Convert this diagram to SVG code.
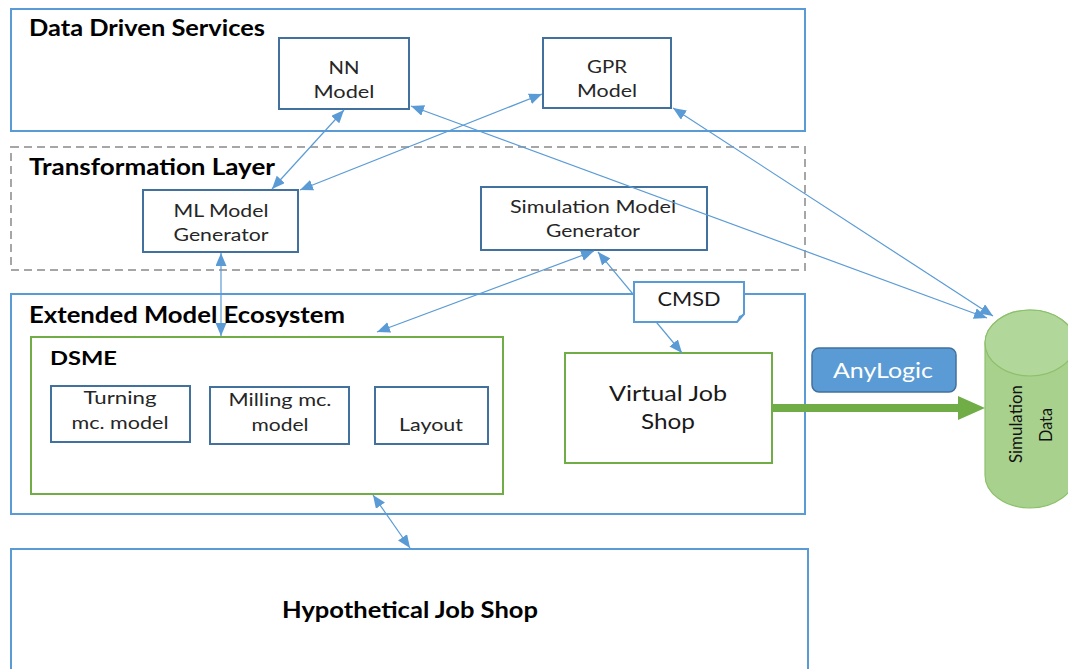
<svg xmlns="http://www.w3.org/2000/svg" width="1068" height="669" viewBox="0 0 1068 669">
<defs>
<style>
.outer{fill:none;stroke:#5b9bd5;stroke-width:2}
.dash{fill:none;stroke:#a6a6a6;stroke-width:2;stroke-dasharray:8 5}
.node{fill:#fff;stroke:#41719c;stroke-width:2}
.green{fill:#fff;stroke:#70ad47;stroke-width:2}
.title{font-family:Lato,"Liberation Sans",sans-serif;font-weight:bold;font-size:22px;fill:#000}
.lbl{font-family:Lato,"Liberation Sans",sans-serif;font-size:18px;fill:#262626;text-anchor:middle}
.big{font-family:Lato,"Liberation Sans",sans-serif;font-size:22px;fill:#1a1a1a;text-anchor:middle}
.conn{stroke:#5b9bd5;stroke-width:1.2;fill:none;marker-start:url(#ah);marker-end:url(#ah)}
</style>
<marker id="ah" markerUnits="userSpaceOnUse" markerWidth="14" markerHeight="12" refX="13" refY="5.5" orient="auto-start-reverse">
<path d="M0,0 L13,5.5 L0,11 z" fill="#5b9bd5"/>
</marker>
</defs>

<g id="data-driven-services">
<rect class="outer" x="11" y="9" width="794" height="122"/>
<text class="title" x="29" y="36" textLength="236" lengthAdjust="spacingAndGlyphs">Data Driven Services</text>
</g>
<g id="transformation-layer">
<rect class="dash" x="11" y="147" width="794" height="123"/>
<text class="title" x="29" y="175" textLength="246" lengthAdjust="spacingAndGlyphs">Transformation Layer</text>
</g>
<g id="extended-model-ecosystem">
<rect class="outer" x="11" y="294" width="794" height="220"/>
<text class="title" x="29" y="323" textLength="316" lengthAdjust="spacingAndGlyphs">Extended Model Ecosystem</text>
</g>
<g id="hypothetical-job-shop">
<rect class="outer" x="11" y="549" width="797" height="130"/>
<text class="title" x="282" y="618" textLength="256" lengthAdjust="spacingAndGlyphs">Hypothetical Job Shop</text>
</g>

<g id="nn-model">
<rect class="node" x="279" y="38" width="130" height="71"/>
<text class="lbl" x="344" y="74" textLength="31" lengthAdjust="spacingAndGlyphs">NN</text>
<text class="lbl" x="344" y="98" textLength="61" lengthAdjust="spacingAndGlyphs">Model</text>
</g>
<g id="gpr-model">
<rect class="node" x="543" y="38" width="128" height="70"/>
<text class="lbl" x="607" y="73" textLength="40" lengthAdjust="spacingAndGlyphs">GPR</text>
<text class="lbl" x="607" y="97" textLength="60" lengthAdjust="spacingAndGlyphs">Model</text>
</g>
<g id="ml-model-generator">
<rect class="node" x="143" y="190" width="155" height="62"/>
<text class="lbl" x="221" y="217" textLength="95" lengthAdjust="spacingAndGlyphs">ML Model</text>
<text class="lbl" x="221" y="241" textLength="95" lengthAdjust="spacingAndGlyphs">Generator</text>
</g>
<g id="simulation-model-generator">
<rect class="node" x="481" y="187" width="226" height="63"/>
<text class="lbl" x="593" y="213" textLength="166" lengthAdjust="spacingAndGlyphs">Simulation Model</text>
<text class="lbl" x="593" y="237" textLength="94" lengthAdjust="spacingAndGlyphs">Generator</text>
</g>

<g id="dsme">
<rect class="green" x="31" y="337" width="472" height="157"/>
<text class="title" x="50" y="365" style="font-size:19px" textLength="67" lengthAdjust="spacingAndGlyphs">DSME</text>
</g>
<g id="turning-model">
<rect class="node" x="51" y="386" width="139" height="56"/>
<text class="lbl" x="120" y="404" textLength="73" lengthAdjust="spacingAndGlyphs">Turning</text>
<text class="lbl" x="120" y="429" textLength="97" lengthAdjust="spacingAndGlyphs">mc. model</text>
</g>
<g id="milling-model">
<rect class="node" x="210" y="387" width="139" height="57"/>
<text class="lbl" x="280" y="406" textLength="103" lengthAdjust="spacingAndGlyphs">Milling mc.</text>
<text class="lbl" x="280" y="431" textLength="57" lengthAdjust="spacingAndGlyphs">model</text>
</g>
<g id="layout">
<rect class="node" x="375" y="387" width="113" height="57"/>
<text class="lbl" x="431" y="431" textLength="64" lengthAdjust="spacingAndGlyphs">Layout</text>
</g>

<g id="virtual-job-shop">
<rect class="green" x="565" y="353" width="207" height="110"/>
<text class="big" x="668" y="401" textLength="118" lengthAdjust="spacingAndGlyphs">Virtual Job</text>
<text class="big" x="668" y="429" textLength="54" lengthAdjust="spacingAndGlyphs">Shop</text>
</g>

<g id="anylogic">
<rect x="812" y="348" width="144" height="44" rx="7" fill="#5b9bd5" stroke="#41719c" stroke-width="1.5"/>
<text class="big" x="883" y="378" style="fill:#fff" textLength="100" lengthAdjust="spacingAndGlyphs">AnyLogic</text>
</g>

<g id="simulation-data">
<path d="M985,343 A45,33 0 0 1 1075,343 V475 A45,33 0 0 1 985,475 Z" fill="#a9d18e" stroke="#8cc06b" stroke-width="1.2"/>
<ellipse cx="1030" cy="343" rx="45" ry="33" fill="#b2d79a" stroke="#8cc06b" stroke-width="1.2"/>
<text transform="translate(1022,424) rotate(-90)" style="font-family:Lato,'Liberation Sans',sans-serif;font-size:17px;fill:#111" text-anchor="middle" textLength="78" lengthAdjust="spacingAndGlyphs">Simulation</text>
<text transform="translate(1052,425) rotate(-90)" style="font-family:Lato,'Liberation Sans',sans-serif;font-size:17px;fill:#111" text-anchor="middle" textLength="34" lengthAdjust="spacingAndGlyphs">Data</text>
</g>

<g id="connectors">
<line class="conn" x1="344" y1="110" x2="272" y2="189"/>
<line class="conn" x1="542" y1="94" x2="300" y2="190"/>
<line class="conn" x1="411" y1="106" x2="987" y2="318"/>
<line class="conn" x1="673" y1="108" x2="993" y2="316"/>
<line class="conn" x1="221" y1="253" x2="221" y2="336"/>
<line class="conn" x1="594" y1="251" x2="377" y2="332"/>
<line class="conn" x1="598" y1="252" x2="682" y2="353"/>
<line class="conn" x1="373" y1="495" x2="410" y2="548"/>
<line x1="773" y1="408" x2="960" y2="408" stroke="#70ad47" stroke-width="8"/>
<path d="M958,396 L985,408 L958,420 z" fill="#70ad47"/>
</g>

<g id="cmsd">
<path d="M634,282 H744 V314 L737,322 H634 Z" fill="#fff" stroke="#5b9bd5" stroke-width="2"/>
<path d="M737,322 L739,316 L744,314 Z" fill="#5b9bd5"/>
<text class="lbl" x="689" y="306" style="font-size:19px;fill:#1a1a1a" textLength="63" lengthAdjust="spacingAndGlyphs">CMSD</text>
</g>
</svg>
